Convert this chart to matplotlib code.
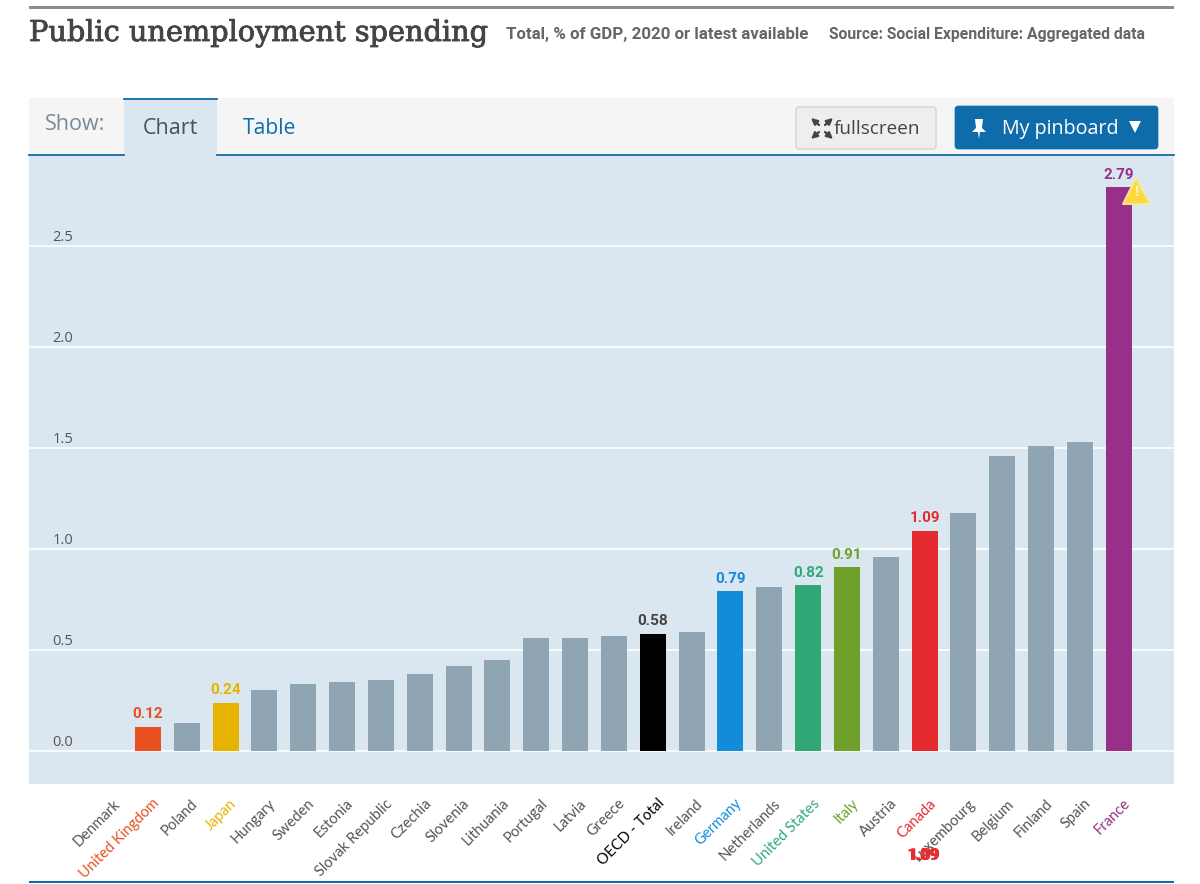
import matplotlib
matplotlib.use("Agg")
import matplotlib.pyplot as plt
import matplotlib.patheffects as pe
from matplotlib.patches import FancyBboxPatch, Polygon, Rectangle
from matplotlib.transforms import ScaledTranslation

plt.rcParams["font.family"] = ["Open Sans", "DejaVu Sans"]

# Data
countries = ["Denmark", "United Kingdom", "Poland", "Japan", "Hungary", "Sweden", "Estonia",
             "Slovak Republic", "Czechia", "Slovenia", "Lithuania", "Portugal", "Latvia", "Greece",
             "OECD - Total", "Ireland", "Germany", "Netherlands", "United States", "Italy",
             "Austria", "Canada", "Luxembourg", "Belgium", "Finland", "Spain", "France"]
values = [0, 0.12, 0.14, 0.24, 0.30, 0.33, 0.34, 0.35, 0.38, 0.42, 0.45, 0.56, 0.56, 0.57,
          0.58, 0.59, 0.79, 0.81, 0.82, 0.91, 0.96, 1.09, 1.18, 1.46, 1.51, 1.53, 2.79]
yticks = [0.0, 0.5, 1.0, 1.5, 2.0, 2.5]

# Highlighted countries get their own colour and a value label
highlight = {"United Kingdom": "#e8501f", "Japan": "#e6b400", "OECD - Total": "#000000",
             "Germany": "#128cd8", "United States": "#2fa876", "Italy": "#6fa02a",
             "Canada": "#e62b30", "France": "#98308a"}
value_colors = {"OECD - Total": "#444444"}
GREY_BAR = "#8fa5b4"
PANEL = "#dbe7f0"
BLUE = "#0f6cab"
W, H = 1200, 884

fig = plt.figure(figsize=(W / 100, H / 100), dpi=100, facecolor="white")

# ---- Chart panel, pixel box x 29-1174, y 156-784 ----
ax = fig.add_axes([29 / W, 1 - 784 / H, (1174 - 29) / W, (784 - 156) / H], facecolor=PANEL)
ax.set_xlim(-2.06, 27.42)
ax.set_ylim(-0.163, 2.945)
for s in ax.spines.values():
    s.set_visible(False)

xs = list(range(len(countries)))
bar_colors = [highlight.get(c, GREY_BAR) for c in countries]
ax.bar(xs, values, width=0.67, color=bar_colors, zorder=3)

ax.set_yticks(yticks)
ax.set_yticklabels([f"{v:.1f}" for v in yticks], ha="left", va="bottom", fontsize=10.5, color="#555555")
ax.tick_params(axis="y", length=0, pad=-17)
ax.grid(axis="y", color="white", linewidth=1.2, zorder=1)
ax.set_axisbelow(True)
y_shift = ScaledTranslation(0, 1 / 72, fig.dpi_scale_trans)
for lab in ax.get_yticklabels():
    lab.set_transform(lab.get_transform() + y_shift)

ax.set_xticks(xs)
ax.set_xticklabels(countries, rotation=45, ha="right", va="top", rotation_mode="anchor",
                   fontsize=10.6, family="Lato")
ax.tick_params(axis="x", length=0, pad=0)
x_shift = ScaledTranslation(3 / 72, -9 / 72, fig.dpi_scale_trans)
for lab, c in zip(ax.get_xticklabels(), countries):
    lab.set_color(highlight.get(c, "#555555"))
    lab.set_transform(lab.get_transform() + x_shift)

for x, c, v in zip(xs, countries, values):
    if c in highlight:
        ax.annotate(f"{v:.2f}", (x, v), xytext=(0, 4), textcoords="offset points", ha="center",
                    va="bottom", fontsize=11, fontweight="bold", family="Roboto",
                    color=value_colors.get(c, highlight[c]), zorder=5)

# Stray Canada value under the axis labels, doubled in the original
canada = countries.index("Canada")
for dx in (-1.5, 0):
    ax.annotate(f"{values[canada]:.2f}", (canada, 0), xytext=(dx, -75), textcoords="offset points",
                ha="center", va="center", fontsize=11.5, fontweight="bold", family="Roboto",
                color=highlight["Canada"], annotation_clip=False)

# ---- Page furniture in pixel coordinates ----
ui = fig.add_axes([0, 0, 1, 1], facecolor="none", zorder=10)
ui.set_xlim(0, W)
ui.set_ylim(H, 0)
ui.axis("off")

ui.add_patch(Rectangle((29, 6), 1145, 2.5, color="#8c8c8c", lw=0))
title = ui.text(29, 33, "Public unemployment spending", family="DejaVu Serif", fontsize=20.7,
                color="#444444", va="center", ha="left")
title.set_path_effects([pe.withStroke(linewidth=0.6, foreground="#444444")])
ui.text(506, 34, "Total, % of GDP, 2020 or latest available", family="Roboto", fontweight="bold",
        fontsize=12.2, color="#666666", va="center")
ui.text(829, 34, "Source: Social Expenditure: Aggregated data", family="Roboto", fontweight="bold",
        fontsize=11.35, color="#666666", va="center")

# tab strip
ui.add_patch(Rectangle((29, 98), 1145, 57, color="#f5f5f5", lw=0))
ui.add_patch(Rectangle((124, 98), 93, 58, color=PANEL, lw=0))
ui.plot([124, 217], [98.5, 98.5], color=BLUE, lw=1.3)
ui.plot([29, 124], [155, 155], color=BLUE, lw=1.3)
ui.plot([217, 1174], [155, 155], color=BLUE, lw=1.3)
ui.text(45, 124, "Show:", fontsize=15.5, color="#7a8a9a", va="center")
ui.text(143, 129, "Chart", fontsize=15.5, color="#44525c", va="center")
ui.text(243, 129, "Table", fontsize=15.2, color=BLUE, va="center")

# fullscreen button
ui.add_patch(FancyBboxPatch((796, 107), 140, 42, boxstyle="round,pad=0,rounding_size=3",
                            fc="#eeeeee", ec="#d2d2d2", lw=1))
for sx, sy, tx, ty in [(819, 125, 811, 118), (825, 125, 833, 118),
                       (819, 132, 811, 139), (825, 132, 833, 139)]:
    ui.annotate("", (tx, ty), (sx, sy),
                arrowprops=dict(arrowstyle="-|>", color="#444444", lw=1.6, mutation_scale=9,
                                shrinkA=0, shrinkB=0))
ui.text(834, 129, "fullscreen", fontsize=13.6, color="#444444", va="center")

# pinboard button
ui.add_patch(FancyBboxPatch((955, 106), 203, 43, boxstyle="round,pad=0,rounding_size=3",
                            fc=BLUE, ec=BLUE, lw=0.5))
ui.add_patch(Polygon([[975, 119], [983, 119], [982, 128], [986, 132], [980, 132], [979, 139],
                      [978, 132], [972, 132], [976, 128]], closed=True, fc="white", ec="none"))
ui.text(1002, 129, "My pinboard", fontsize=14.2, color="white", va="center")
ui.add_patch(Polygon([[1129, 121], [1141, 121], [1135, 133]], closed=True, fc="white", ec="none"))

# warning flag on the France bar
ui.add_patch(Polygon([[1136, 178], [1150, 204], [1123, 204]], closed=True, fc="#ffd83d",
                     ec="#f5e9a0", lw=1.4, joinstyle="round"))
ui.text(1136, 192, "!", fontsize=11, color="#fff4c0", fontweight="bold", ha="center", va="center")

# bottom rule
ui.add_patch(Rectangle((29, 881), 1145, 2, color=BLUE, lw=0))

plt.savefig("out.png", dpi=100)
